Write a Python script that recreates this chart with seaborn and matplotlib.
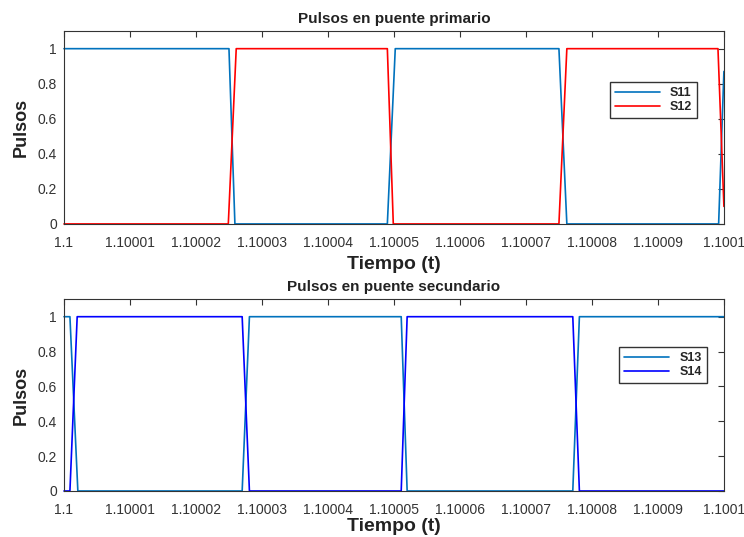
import matplotlib
matplotlib.use('Agg')
import matplotlib.pyplot as plt
import seaborn as sns
import numpy as np
import pandas as pd

# breakpoints (time, pulse value)
t_s11 = [1.1, 1.1000250, 1.1000259, 1.1000490, 1.1000502, 1.1000750, 1.1000762, 1.1000992, 1.1001]
v_s11 = [1, 1, 0, 0, 1, 1, 0, 0, 0.87]
t_s12 = [1.1, 1.1000249, 1.1000261, 1.1000490, 1.1000499, 1.1000750, 1.1000762, 1.1000991, 1.1001]
v_s12 = [0, 0, 1, 1, 0, 0, 1, 1, 0.1]

t_s13 = [1.1, 1.1000009, 1.1000021, 1.1000270, 1.1000281, 1.1000511, 1.1000520, 1.1000771, 1.1000781, 1.1001]
v_s13 = [1, 1, 0, 0, 1, 1, 0, 0, 1, 1]
t_s14 = [1.1, 1.1000009, 1.1000020, 1.1000270, 1.1000281, 1.1000511, 1.1000520, 1.1000771, 1.1000781, 1.1001]
v_s14 = [0, 0, 1, 1, 0, 0, 1, 1, 0, 0]

xticks = [1.1, 1.10001, 1.10002, 1.10003, 1.10004, 1.10005, 1.10006, 1.10007, 1.10008, 1.10009, 1.1001]
xtick_labels = ['1.1', '1.10001', '1.10002', '1.10003', '1.10004', '1.10005',
                '1.10006', '1.10007', '1.10008', '1.10009', '1.1001']
yticks = [0, 0.2, 0.4, 0.6, 0.8, 1]
ytick_labels = ['0', '0.2', '0.4', '0.6', '0.8', '1']

sns.set_style('white')
plt.rcParams['font.family'] = ['Liberation Sans', 'DejaVu Sans']


def make_df(pairs):
    frames = []
    for name, t, v in pairs:
        frames.append(pd.DataFrame({'t': t, 'v': v, 'signal': name}))
    return pd.concat(frames, ignore_index=True)


def style_ax(ax, title, xpad):
    ax.set_xlim(xticks[0], xticks[-1])
    ax.set_ylim(0, 1.1)
    ax.set_xticks(xticks)
    ax.set_xticklabels(xtick_labels)
    ax.set_yticks(yticks)
    ax.set_yticklabels(ytick_labels)
    ax.tick_params(direction='in', top=True, right=True, length=4, width=0.8,
                   labelsize=10, labelcolor='#333333', color='#333333', pad=5)
    ax.tick_params(axis='x', pad=9)
    for s in ax.spines.values():
        s.set_color('#333333')
        s.set_linewidth(0.8)
        s.set_visible(True)
    ax.set_title(title, fontsize=11, fontweight='bold', color='#222222', pad=6)
    ax.set_xlabel('Tiempo (t)', fontsize=14, fontweight='bold', color='#222222', labelpad=xpad)
    ax.set_ylabel('Pulsos', fontsize=13, fontweight='bold', color='#222222', labelpad=6)


fig = plt.figure(figsize=(7.44, 5.37), dpi=100)
ax1 = fig.add_axes([0.086, 0.583, 0.887, 0.359])
ax2 = fig.add_axes([0.086, 0.0857, 0.887, 0.357])

df1 = make_df([('S11', t_s11, v_s11), ('S12', t_s12, v_s12)])
sns.lineplot(data=df1, x='t', y='v', hue='signal', palette={'S11': '#0072BD', 'S12': '#FF0000'},
             estimator=None, sort=False, linewidth=1.2, ax=ax1, clip_on=False)
style_ax(ax1, 'Pulsos en puente primario', 4)
ax1.legend(loc='upper right', bbox_to_anchor=(0.959, 0.736), borderaxespad=0,
           fancybox=False, edgecolor='#333333', framealpha=1, handlelength=3.6,
           prop={'weight': 'bold', 'size': 9}, labelspacing=0.15, borderpad=0.4)

df2 = make_df([('S13', t_s13, v_s13), ('S14', t_s14, v_s14)])
sns.lineplot(data=df2, x='t', y='v', hue='signal', palette={'S13': '#0072BD', 'S14': '#0000FF'},
             estimator=None, sort=False, linewidth=1.2, ax=ax2, clip_on=False)
style_ax(ax2, 'Pulsos en puente secundario', 0.5)
ax2.legend(loc='upper right', bbox_to_anchor=(0.974, 0.75), borderaxespad=0,
           fancybox=False, edgecolor='#333333', framealpha=1, handlelength=3.6,
           prop={'weight': 'bold', 'size': 9}, labelspacing=0.15, borderpad=0.4)

fig.savefig('out.png', dpi=100)
